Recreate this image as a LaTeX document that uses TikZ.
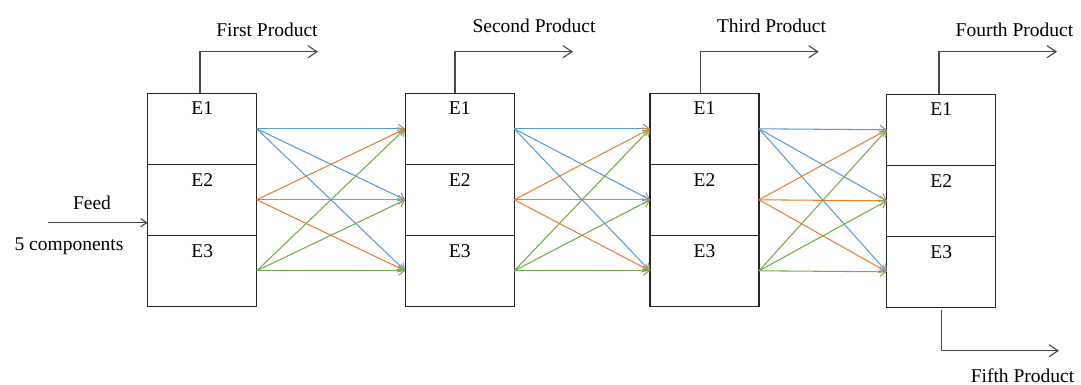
\documentclass[tikz,border=0pt]{standalone}
\usepackage{fontspec}
\setmainfont{Liberation Serif}
\usetikzlibrary{arrows.meta}
\definecolor{cblue}{HTML}{5B9BD5}
\definecolor{corange}{HTML}{ED7D31}
\definecolor{cgreen}{HTML}{70AD47}
\definecolor{cline}{HTML}{262626}
\tikzset{
  seg/.style={draw=cline, line width=1.1pt, minimum width=109pt, minimum height=71pt, inner sep=0pt, outer sep=0pt},
  lbl/.style={font=\fontsize{19.5}{23}\selectfont, inner sep=0pt, anchor=base},
  prod/.style={draw=cline!85, line width=1.1pt, -{Straight Barb[length=9pt,width=12pt,line width=1.1pt]}},
  flow/.style={line width=1.05pt, -{Straight Barb[length=6pt,width=9pt,line width=1pt]}},
}
\begin{document}
\begin{tikzpicture}[x=1pt,y=-1pt]
\useasboundingbox (0,0) rectangle (1081,385);
% columns: name / center x / top y
\foreach \c/\cx/\ty in {1/202.2/93.3, 2/459.7/93.3, 3/704.5/93.3, 4/941.3/94.3}{
  \foreach \r in {1,2,3}{
    \node[seg] (c\c E\r) at (\cx, \ty+35.5+71*\r-71) {};
    \node[lbl] (t\c E\r) at (\cx, \ty+71*\r-71+21.7) {E\r};
  }
}
% colored flows
\foreach \c/\n in {1/2, 2/3, 3/4}{
  \foreach \s/\col in {1/cblue, 2/corange, 3/cgreen}{
    \foreach \d in {1,2,3}{
      \draw[flow, draw=\col] (c\c E\s.east) -- (c\n E\d.west);
    }
  }
}
% products
\foreach \c/\sh in {1/-2.2, 2/-4.7, 3/-3.8, 4/-2.3}{
  \coordinate (up\c) at ([xshift=\sh pt]c\c E1.north);
  \coordinate (pt\c) at ([xshift=118pt]up\c |- 0,51.7);
  \draw[prod] (up\c) |- (pt\c);
}
\node[lbl] (p1) at (267,36.7) {First Product};
\node[lbl] (p2) at (534,33) {Second Product};
\node[lbl] (p3) at (771.5,33) {Third Product};
\node[lbl] (p4) at (1014.5,37) {Fourth Product};
% fifth product
\coordinate (dn) at ([yshift=-3pt]c4E3.south);
\coordinate (pt5) at (1059,350.7);
\draw[prod] (dn) |- (pt5);
\node[lbl] (p5) at (1022.5,382) {Fifth Product};
% feed
\coordinate (feedin) at (48,222.7);
\draw[prod, -{Straight Barb[length=6pt,width=8pt,line width=1.1pt]}] (feedin) -- (feedin -| c1E2.west);
\node[lbl] (feed) at (92,209) {Feed};
\node[lbl] (comp) at (69,250.7) {5 components};
\end{tikzpicture}
\end{document}
